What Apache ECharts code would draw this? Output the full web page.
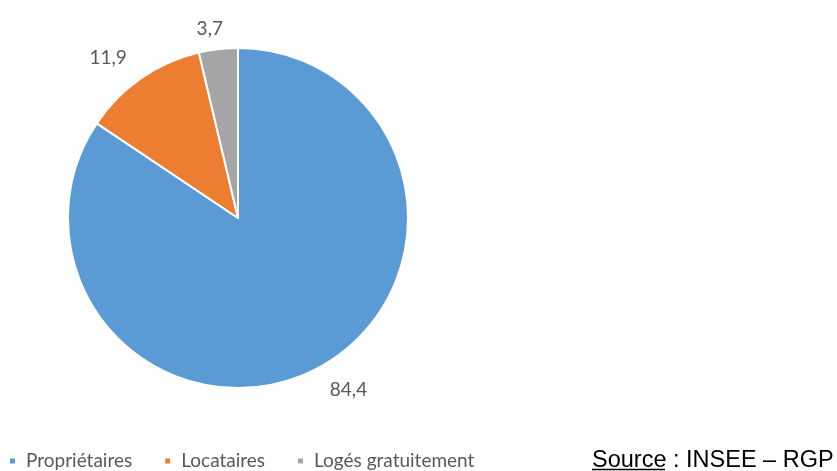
<!DOCTYPE html>
<html>
<head>
<meta charset="utf-8">
<script src="https://cdn.jsdelivr.net/npm/echarts@6/dist/echarts.min.js"></script>
<style>
  html, body { margin: 0; padding: 0; background: #fff; }
  #chart { width: 837px; height: 471px; }
</style>
</head>
<body>
<div id="chart"></div>
<script>
// Statut d'occupation des résidences principales (%)
const categories = ['Propriétaires', 'Locataires', 'Logés gratuitement'];
const values = [84.4, 11.9, 3.7];
const colors = ['#5B9BD5', '#ED7D31', '#A5A5A5'];
const sourceText = 'Source : INSEE – RGP';

const fmt = v => String(v).replace('.', ',');

const data = categories.map((name, i) => {
  const item = { name: name, value: values[i], itemStyle: { color: colors[i] } };
  if (i === 2) {
    // small slice near the top: pull its label slightly inward
    item.labelLine = { show: false, length: 20, length2: 0 };
    item.label = { distanceToLabelLine: -7 };
  }
  return item;
});

const chart = echarts.init(document.getElementById('chart'), null, { renderer: 'canvas' });
chart.setOption({
  animation: false,
  backgroundColor: '#ffffff',
  legend: {
    data: categories,
    left: 8,
    top: 451,
    padding: 0,
    itemGap: 31,
    itemWidth: 7,
    itemHeight: 7,
    icon: 'rect',
    textStyle: {
      fontFamily: 'Lato',
      fontSize: 19,
      color: '#595959',
      padding: [0, 0, 0, 5],
      lineHeight: 20
    }
  },
  series: [{
    type: 'pie',
    center: [238, 218],
    radius: 170,
    startAngle: 90,
    clockwise: true,
    avoidLabelOverlap: false,
    itemStyle: { borderColor: '#ffffff', borderWidth: 2 },
    label: {
      show: true,
      position: 'outside',
      formatter: p => fmt(p.value),
      fontFamily: 'Lato',
      fontSize: 19,
      color: '#595959',
      distanceToLabelLine: 0
    },
    labelLine: { show: false, length: 25, length2: 0 },
    emphasis: { disabled: true },
    data: data
  }],
  graphic: [
    {
      type: 'text',
      x: 592,
      y: 449,
      style: {
        text: sourceText,
        font: '23.5px "Liberation Sans", Arial, sans-serif',
        fill: '#000000'
      }
    },
    {
      type: 'line',
      shape: { x1: 592, y1: 469.5, x2: 665, y2: 469.5 },
      style: { stroke: '#000000', lineWidth: 1.5 }
    }
  ]
});
</script>
</body>
</html>
